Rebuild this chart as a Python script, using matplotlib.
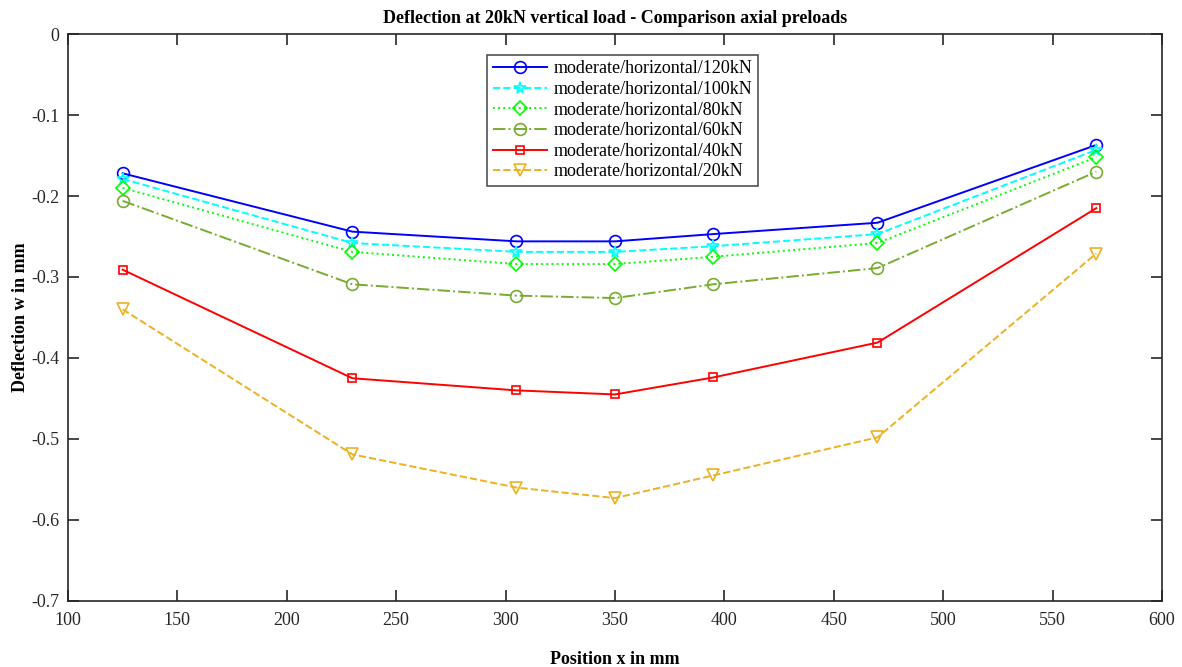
import numpy as np
import matplotlib
matplotlib.use("Agg")
import matplotlib.pyplot as plt

plt.rcParams["font.family"] = ["Liberation Serif", "DejaVu Serif"]
plt.rcParams["axes.unicode_minus"] = False

pos = [125, 230, 305, 350, 395, 470, 570]
w120 = [-0.172, -0.244, -0.256, -0.256, -0.247, -0.233, -0.137]
w100 = [-0.179, -0.258, -0.269, -0.269, -0.262, -0.247, -0.143]
w80 = [-0.190, -0.269, -0.284, -0.284, -0.275, -0.258, -0.152]
w60 = [-0.206, -0.309, -0.323, -0.326, -0.309, -0.289, -0.170]
w40 = [-0.291, -0.425, -0.440, -0.445, -0.424, -0.381, -0.215]
w20 = [-0.340, -0.519, -0.560, -0.573, -0.545, -0.498, -0.271]

series = [
    (w120, "moderate/horizontal/120kN", "#0000FF", "-", "o", 8.5),
    (w100, "moderate/horizontal/100kN", "#00FFFF", "--", "*", 8.5),
    (w80, "moderate/horizontal/80kN", "#00FF00", ":", "D", 7),
    (w60, "moderate/horizontal/60kN", "#77AC30", "-.", "o", 8.5),
    (w40, "moderate/horizontal/40kN", "#FF0000", "-", "s", 5.5),
    (w20, "moderate/horizontal/20kN", "#EDB120", "--", "v", 8.5),
]

fig = plt.figure(figsize=(11.82, 6.67), dpi=100)
ax = fig.add_axes([0.0575, 0.099, 0.9255, 0.85])

for y, lab, c, ls, m, ms in series:
    ax.plot(pos, y, color=c, linestyle=ls, marker=m, markersize=ms,
            markerfacecolor="none", markeredgecolor=c, markeredgewidth=1.2,
            linewidth=1.4, label=lab)

ax.set_xlim(100, 600)
ax.set_ylim(-0.7, 0)
ax.set_xticks(np.arange(100, 601, 50))
ax.set_yticks(np.round(np.arange(-0.7, 0.01, 0.1), 1))
ax.set_yticklabels(["-0.7", "-0.6", "-0.5", "-0.4", "-0.3", "-0.2", "-0.1", "0"])

for s in ax.spines.values():
    s.set_color("#262626")
    s.set_linewidth(1.2)
ax.tick_params(direction="in", top=True, right=True, length=8, width=1.2,
               color="#262626", labelsize=13, labelcolor="#262626")
ax.tick_params(axis="x", pad=8)
ax.tick_params(axis="y", pad=6)

ax.set_title("Deflection at 20kN vertical load - Comparison axial preloads",
             fontsize=13, fontweight="bold", pad=8)
ax.set_xlabel("Position x in mm", fontsize=13, fontweight="bold", labelpad=16)
ax.set_ylabel("Deflection w in mm", fontsize=13, fontweight="bold", labelpad=2)

leg = ax.legend(loc="upper center", bbox_to_anchor=(0.507, 0.963), fontsize=13,
                frameon=True, fancybox=False, handlelength=3.0,
                borderpad=0.3, labelspacing=0.2, handletextpad=0.4,
                borderaxespad=0)
leg.get_frame().set_edgecolor("#262626")
leg.get_frame().set_linewidth(1.2)

fig.savefig("out.png", dpi=100)
